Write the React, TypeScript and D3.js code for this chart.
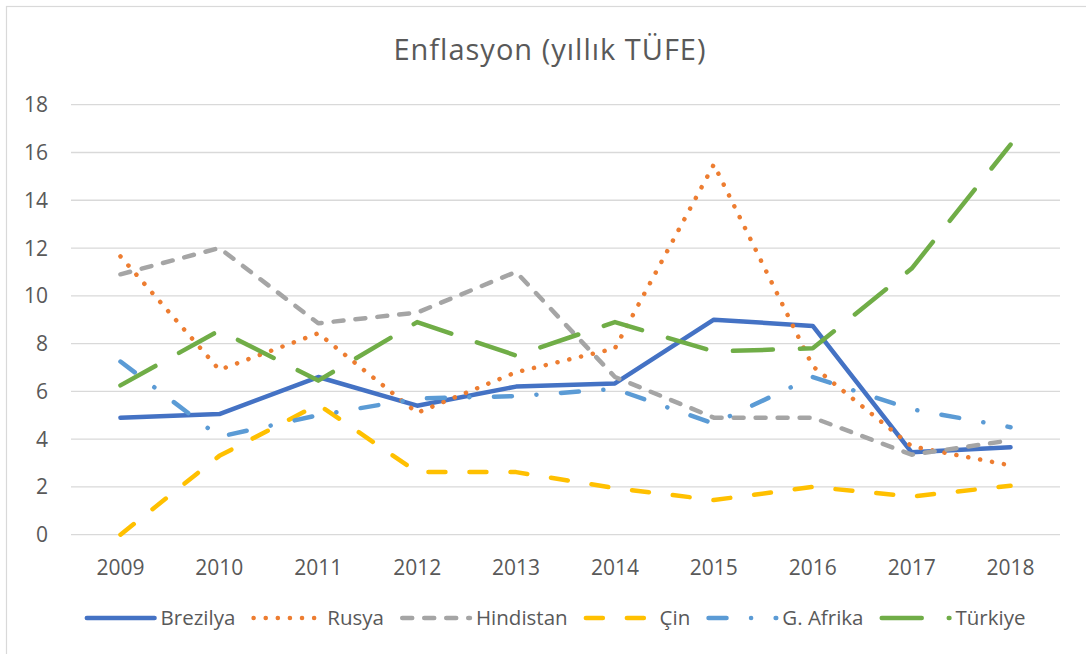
import React, { useEffect, useRef } from 'react';
import * as d3 from 'd3';

const years = ['2009', '2010', '2011', '2012', '2013', '2014', '2015', '2016', '2017', '2018'];
const yTicks = [0, 2, 4, 6, 8, 10, 12, 14, 16, 18];

const brezilya = [4.9, 5.05, 6.6, 5.4, 6.2, 6.33, 9.0, 8.74, 3.45, 3.66];
const rusya = [11.65, 6.9, 8.43, 5.1, 6.8, 7.8, 15.5, 7.05, 3.7, 2.9];
const hindistan = [10.9, 12.0, 8.85, 9.3, 11.0, 6.6, 4.9, 4.9, 3.35, 3.95];
const cin = [0, 3.3, 5.45, 2.62, 2.62, 1.95, 1.45, 2.0, 1.6, 2.05];
const gAfrika = [7.25, 4.1, 5.0, 5.7, 5.8, 6.1, 4.65, 6.6, 5.25, 4.5];
const turkiye = [6.25, 8.55, 6.45, 8.9, 7.5, 8.9, 7.67, 7.8, 11.14, 16.33];

const seriesNames = ['Brezilya', 'Rusya', 'Hindistan', 'Çin', 'G. Afrika', 'Türkiye'];
const seriesValues = [brezilya, rusya, hindistan, cin, gAfrika, turkiye];
const seriesColors = ['#4472C4', '#ED7D31', '#A5A5A5', '#FFC000', '#5B9BD5', '#70AD47'];
// dash patterns (round caps) imitating Excel line styles
const seriesDash = ['none', '0.1 12', '10 12', '17 24', '18 24.5 0.1 24.5', '40 27'];

const W = 1086;
const H = 654;
const FONT = '"Open Sans", Lato, sans-serif';
const TEXT = '#595959';

const App: React.FC = () => {
  const svgRef = useRef<SVGSVGElement>(null);

  useEffect(() => {
    if (!svgRef.current) return;
    const svg = d3.select(svgRef.current);
    svg.selectAll('*').remove();

    const plot = { left: 71, right: 1060, top: 104.7, bottom: 534.7 };

    const x = d3.scaleBand<string>().domain(years).range([plot.left, plot.right]);
    const y = d3.scaleLinear().domain([0, 18]).range([plot.bottom, plot.top]);
    const cx = (d: string) => (x(d) as number) + x.bandwidth() / 2;

    // chart frame
    svg.append('rect')
      .attr('x', 6.5).attr('y', 6.5)
      .attr('width', W + 20).attr('height', H + 20)
      .attr('fill', '#fff')
      .attr('stroke', '#D9D9D9')
      .attr('stroke-width', 1.2);

    // title
    svg.append('text')
      .attr('x', 550).attr('y', 60)
      .attr('text-anchor', 'middle')
      .attr('font-family', FONT)
      .attr('font-size', 29)
      .attr('letter-spacing', 1)
      .attr('fill', TEXT)
      .text('Enflasyon (yıllık TÜFE)');

    // gridlines
    svg.append('g')
      .selectAll('line')
      .data(yTicks)
      .enter()
      .append('line')
      .attr('x1', plot.left).attr('x2', plot.right)
      .attr('y1', d => y(d)).attr('y2', d => y(d))
      .attr('stroke', '#D9D9D9')
      .attr('stroke-width', 1.3);

    // y labels
    svg.append('g')
      .selectAll('text')
      .data(yTicks)
      .enter()
      .append('text')
      .attr('x', 48)
      .attr('y', d => y(d))
      .attr('dy', '0.36em')
      .attr('text-anchor', 'end')
      .attr('font-family', FONT)
      .attr('font-size', 21)
      .attr('fill', TEXT)
      .text(d => String(d));

    // x labels
    svg.append('g')
      .selectAll('text')
      .data(years)
      .enter()
      .append('text')
      .attr('x', d => cx(d))
      .attr('y', 575)
      .attr('text-anchor', 'middle')
      .attr('font-family', FONT)
      .attr('font-size', 21)
      .attr('fill', TEXT)
      .text(d => d);

    // lines
    const line = d3.line<number>()
      .x((_, i) => cx(years[i]))
      .y(d => y(d));

    seriesValues.forEach((vals, i) => {
      svg.append('path')
        .attr('d', line(vals) as string)
        .attr('fill', 'none')
        .attr('stroke', seriesColors[i])
        .attr('stroke-width', 4.5)
        .attr('stroke-linecap', 'round')
        .attr('stroke-linejoin', 'round')
        .attr('stroke-dasharray', seriesDash[i]);
    });

    // legend
    const legend = svg.append('g');
    const sampleLen = 70;
    const items = seriesNames.map((name, i) => {
      const g = legend.append('g');
      g.append('line')
        .attr('x1', 2.25).attr('x2', sampleLen)
        .attr('y1', 0).attr('y2', 0)
        .attr('stroke', seriesColors[i])
        .attr('stroke-width', 4.5)
        .attr('stroke-linecap', 'round')
        .attr('stroke-dasharray', seriesDash[i]);
      const t = g.append('text')
        .attr('x', sampleLen + 6)
        .attr('y', 0)
        .attr('dy', '0.36em')
        .attr('font-family', FONT)
        .attr('font-size', 20.5)
        .attr('fill', TEXT)
        .text(name);
      const tw = (t.node() as SVGTextElement).getComputedTextLength();
      return { g, w: sampleLen + 6 + tw };
    });
    const gap = 16;
    const total = d3.sum(items, d => d.w) + gap * (items.length - 1);
    let pos = 555 - total / 2;
    items.forEach(it => {
      it.g.attr('transform', `translate(${pos},618)`);
      pos += it.w + gap;
    });
  }, []);

  return (
    <svg
      ref={svgRef}
      width={W}
      height={H}
      style={{ position: 'absolute', left: 0, top: 0, display: 'block', background: '#fff' }}
    />
  );
};

export default App;
